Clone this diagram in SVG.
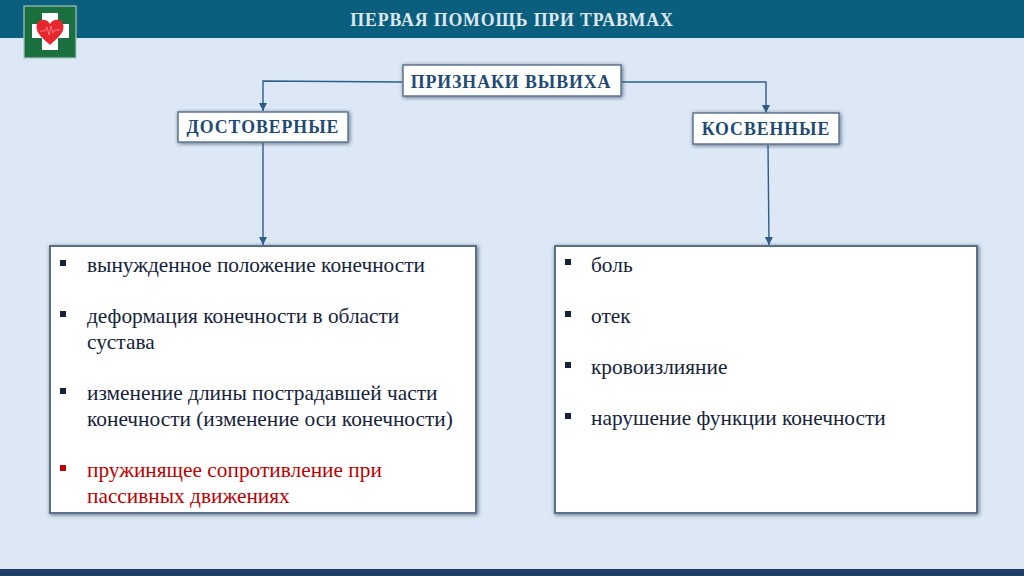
<svg xmlns="http://www.w3.org/2000/svg" width="1024" height="576" viewBox="0 0 1024 576">
<style>
text{font-family:"Liberation Serif","Times New Roman",serif}
.h{font-weight:bold;font-size:17.8px;fill:#1f4a73;text-anchor:middle;letter-spacing:.95px}
.t{font-size:21.35px;fill:#15233a}
.r{fill:#c00000}
.box{fill:#fff;stroke:#5f7690;stroke-width:1.5;filter:url(#s)}
.big{fill:#fff;stroke:#5a6f87;stroke-width:2;filter:url(#s)}
.c{fill:none;stroke:#2f5d8a;stroke-width:1.4}
.b{fill:#15233a}
</style>
<defs>
<filter id="s" x="-10%" y="-10%" width="120%" height="125%"><feDropShadow dx="1" dy="1" stdDeviation="2.2" flood-color="#33465e" flood-opacity=".75"/></filter>
<marker id="a" markerWidth="9" markerHeight="8" refX="8" refY="4" orient="auto" markerUnits="userSpaceOnUse"><path d="M0 0L8 4L0 8z" fill="#2f5d8a"/></marker>
</defs>
<rect width="1024" height="576" fill="#dce8f5"/>
<rect width="1024" height="38" fill="#0a5f7f"/>
<rect y="569" width="1024" height="7" fill="#1f3d66"/>
<text x="512" y="25.500" text-anchor="middle" font-weight="bold" font-size="17.800" fill="#dfe7ee" letter-spacing=".85" style="font-family:'Liberation Serif',serif">ПЕРВАЯ ПОМОЩЬ ПРИ ТРАВМАХ</text>
<g id="logo">
<rect x="24" y="6" width="52" height="52" fill="#1b7040" stroke="#a8c4c0" stroke-width="1.2"/>
<path d="M42 13H58V24H69V38H58V50H42V38H32V24H42z" fill="#fff"/>
<path d="M50 45C44 39 36.500 34 36.500 27C36.500 18 47 18 50 24C53 18 63.500 18 63.500 27C63.500 34 56 39 50 45z" fill="#e8262e"/>
<path d="M40 31H45L47 27L49 35L51 26L53 33L55 30H60" fill="none" stroke="#f4a0a0" stroke-width=".7"/>
</g>
<g id="connectors">
<path class="c" marker-end="url(#a)" d="M402 82L263 81V111"/>
<path class="c" marker-end="url(#a)" d="M622 82H766V113"/>
<path class="c" marker-end="url(#a)" d="M263 143V245"/>
<path class="c" marker-end="url(#a)" d="M768 145L769 245"/>
</g>
<g id="node-root"><rect class="box" x="403" y="65" width="218" height="31"/><text class="h" x="511" y="88">ПРИЗНАКИ ВЫВИХА</text></g>
<g id="node-left"><rect class="box" x="178" y="112" width="170" height="30"/><text class="h" x="263" y="133">ДОСТОВЕРНЫЕ</text></g>
<g id="node-right"><rect class="box" x="693" y="113" width="146" height="31"/><text class="h" x="766" y="135">КОСВЕННЫЕ</text></g>
<g id="list-left">
<rect class="big" x="50" y="246" width="426" height="267"/>
<rect class="b" x="60" y="260" width="6" height="6"/>
<text class="t" x="87" y="271.500">вынужденное положение конечности</text>
<rect class="b" x="60" y="311" width="6" height="6"/>
<text class="t" x="87" y="322.500">деформация конечности в области</text>
<text class="t" x="87" y="348.500">сустава</text>
<rect class="b" x="60" y="388" width="6" height="6"/>
<text class="t" x="87" y="399.500">изменение длины пострадавшей части</text>
<text class="t" x="87" y="425.500">конечности (изменение оси конечности)</text>
<rect class="r" x="60" y="465" width="6" height="6"/>
<text class="t r" x="87" y="476.500">пружинящее сопротивление при</text>
<text class="t r" x="87" y="502.500">пассивных движениях</text>
</g>
<g id="list-right">
<rect class="big" x="555" y="246" width="422" height="267"/>
<rect class="b" x="565" y="259" width="6" height="6"/>
<text class="t" x="591" y="271.500">боль</text>
<rect class="b" x="565" y="311" width="6" height="6"/>
<text class="t" x="591" y="322.500">отек</text>
<rect class="b" x="565" y="362" width="6" height="6"/>
<text class="t" x="591" y="373.500">кровоизлияние</text>
<rect class="b" x="565" y="413" width="6" height="6"/>
<text class="t" x="591" y="424.500">нарушение функции конечности</text>
</g>
</svg>
